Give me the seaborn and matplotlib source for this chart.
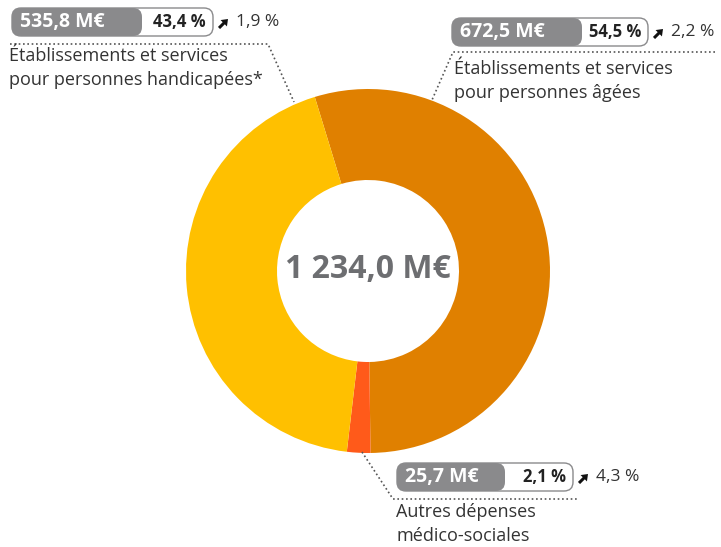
import matplotlib
matplotlib.use("Agg")
import matplotlib.pyplot as plt
import seaborn as sns
from matplotlib.patches import FancyBboxPatch, FancyArrow

# ── Données ─────────────────────────────────────────────
categories = [
    "Établissements et services\npour personnes âgées",
    "Autres dépenses\nmédico-sociales",
    "Établissements et services\npour personnes handicapées*",
]
montants = [672.5, 25.7, 535.8]      # M€
parts = [54.5, 2.1, 43.4]            # %
evolutions = [2.2, 4.3, 1.9]         # %
total = 1234.0
couleurs = ["#E08000", "#FF5A1A", "#FFC000"]

sns.set_theme(style="white")
plt.rcParams["font.family"] = ["Open Sans", "DejaVu Sans"]

W, H = 721, 547
fig = plt.figure(figsize=(W / 100, H / 100), dpi=100)
ax = fig.add_axes([0, 0, 1, 1])


def fr(v, unit=""):
    s = f"{v:,.1f}".replace(",", " ").replace(".", ",")
    return s + unit


# ── Anneau ──────────────────────────────────────────────
cx, cy = 368, H - 271
ax.pie(montants, colors=couleurs, startangle=107, counterclock=False,
       radius=182, center=(cx, cy),
       wedgeprops=dict(width=91, edgecolor="none"))

ax.text(cx, cy + 2, fr(total, " M€"), ha="center", va="center",
        fontsize=23, fontweight="bold", color="#6D6E71")

GRIS = "#8A8A8C"


def etiquette(i, x0, y0, wg, wt, tx, ty, leader):
    # pastille : montant (gris) + part (blanc)
    h = 28
    yb = H - y0 - h
    ym = yb + h / 2
    ax.add_patch(FancyBboxPatch((x0, yb), wg + wt, h,
                                boxstyle="round,pad=0,rounding_size=9",
                                fc="white", ec=GRIS, lw=1.0, zorder=3))
    ax.add_patch(FancyBboxPatch((x0, yb), wg, h,
                                boxstyle="round,pad=0,rounding_size=9",
                                fc=GRIS, ec="none", zorder=4))
    ax.text(x0 + 8, ym, fr(montants[i], " M€"), ha="left",
            va="center", fontsize=14, fontweight="bold", color="white",
            zorder=5)
    ax.text(x0 + wg + wt - 7, ym, fr(parts[i], " %"), ha="right",
            va="center", fontsize=12, fontweight="bold", color="#222222",
            zorder=5)
    # flèche + évolution
    xa = x0 + wg + wt + 6
    ax.add_patch(FancyArrow(xa, ym - 6, 9, 9, width=3, head_width=9,
                            head_length=6, length_includes_head=True,
                            fc="#111111", ec="none", zorder=5))
    ax.text(xa + 17, ym, fr(evolutions[i], " %"), ha="left",
            va="center", fontsize=12.5, color="#333333")
    # libellé
    ax.text(tx, H - ty, categories[i], ha="left", va="top", fontsize=13,
            color="#333333", linespacing=1.42)
    # trait pointillé
    xs = [p[0] for p in leader]
    ys = [H - p[1] for p in leader]
    ax.plot(xs, ys, ls=(0, (1, 1.6)), color="#555555", lw=1.2)


etiquette(0, 452, 18, 130, 66, 454, 60,
          [(715, 52), (453, 52), (432, 100)])
etiquette(1, 397, 463, 108, 68, 396, 503,
          [(362, 452), (393, 499), (577, 499)])
etiquette(2, 12, 8, 130, 71, 9, 47,
          [(10, 44), (268, 44), (294, 102)])

ax.set_xlim(0, W)
ax.set_ylim(0, H)
ax.set_aspect("equal")
ax.axis("off")

plt.savefig("out.png", dpi=100)
plt.close()
